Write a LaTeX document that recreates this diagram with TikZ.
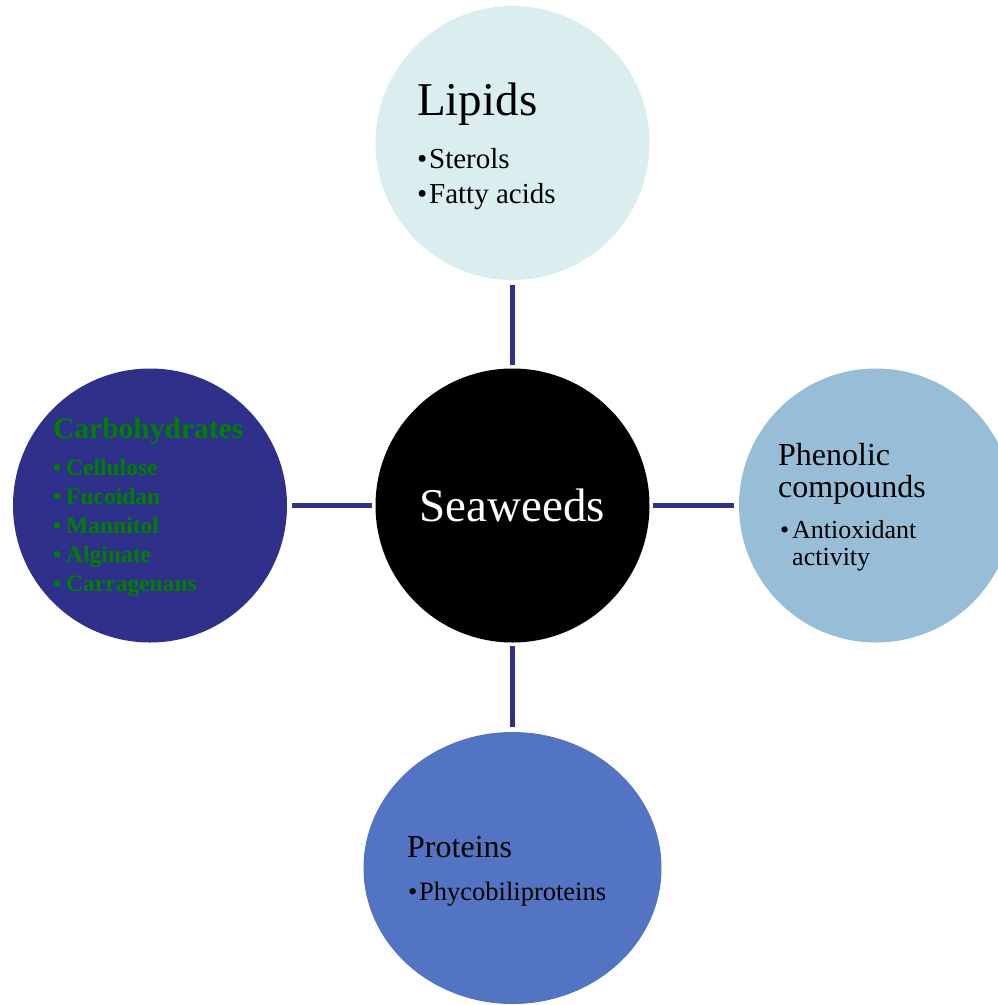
\documentclass[tikz,border=0pt]{standalone}
\usepackage{fontspec}
\setmainfont{Liberation Serif}
\usetikzlibrary{shapes.geometric}
\definecolor{navyc}{HTML}{2E3089}
\definecolor{lipidc}{HTML}{DAEDEF}
\definecolor{phenc}{HTML}{98BDD7}
\definecolor{protc}{HTML}{5374C2}
\definecolor{greent}{HTML}{007F00}
\tikzset{
  bubble/.style={circle, inner sep=0pt, minimum size=274pt},
  link/.style={draw=navyc, line width=4.5pt, shorten <=3pt, shorten >=5pt},
  ttl/.style={anchor=base west, inner sep=0pt, font=\fontsize{32}{33}\selectfont},
  itm/.style={anchor=base west, inner sep=0pt, font=\fontsize{26.5}{28}\selectfont},
  citm/.style={anchor=base west, inner sep=0pt, text=greent, font=\bfseries\fontsize{23.5}{29}\selectfont},
}
\begin{document}
\begin{tikzpicture}[x=1pt,y=-1pt]
\useasboundingbox (0,0) rectangle (998,1005);
\clip (0,0) rectangle (998,1005);
% circles
\node[bubble, fill=black, text=white, font=\fontsize{47}{50}\selectfont] (sea) at (512.5,505.5) {Seaweeds};
\node[bubble, fill=lipidc] (lip) at (512.5,143) {};
\node[bubble, fill=navyc] (carb) at (150,505.5) {};
\node[bubble, fill=phenc] (phen) at (876,505.5) {};
\node[ellipse, inner sep=0pt, minimum width=298pt, minimum height=272pt, fill=protc] (prot) at (512.5,868) {};
% connectors
\draw[link] (sea) -- (lip);
\draw[link] (sea) -- (carb);
\draw[link] (sea) -- (phen);
\draw[link] (sea) -- (prot);
% Lipids
\node[ttl, font=\fontsize{47}{50}\selectfont] (liph) at (417,115) {Lipids};
\node[itm, font=\fontsize{29}{35}\selectfont] (lip1) at (417,168) {\makebox[12pt][l]{•}Sterols};
\node[itm, font=\fontsize{29}{35}\selectfont] (lip2) at (417,203) {\makebox[12pt][l]{•}Fatty acids};
% Carbohydrates
\node[ttl, text=greent, font=\bfseries\fontsize{29.5}{30}\selectfont] (carbh) at (53,438) {Carbohydrates};
\node[citm] (c1) at (53,475) {\makebox[13pt][l]{•}Cellulose};
\node[citm] (c2) at (53,504) {\makebox[13pt][l]{•}Fucoidan};
\node[citm] (c3) at (53,533) {\makebox[13pt][l]{•}Mannitol};
\node[citm] (c4) at (53,562) {\makebox[13pt][l]{•}Alginate};
\node[citm] (c5) at (53,591) {\makebox[13pt][l]{•}Carragenans};
% Phenolic
\node[ttl] (ph1) at (778,465) {Phenolic};
\node[ttl] (ph2) at (778,497) {compounds};
\node[itm, font=\fontsize{26}{27}\selectfont] (ph3) at (780,538) {\makebox[12pt][l]{•}Antioxidant};
\node[itm, font=\fontsize{26}{27}\selectfont] (ph4) at (792,565) {activity};
% Proteins
\node[ttl] (pr1) at (407,857) {Proteins};
\node[itm] (pr2) at (408,900) {\makebox[11pt][l]{•}Phycobiliproteins};
\end{tikzpicture}
\end{document}
